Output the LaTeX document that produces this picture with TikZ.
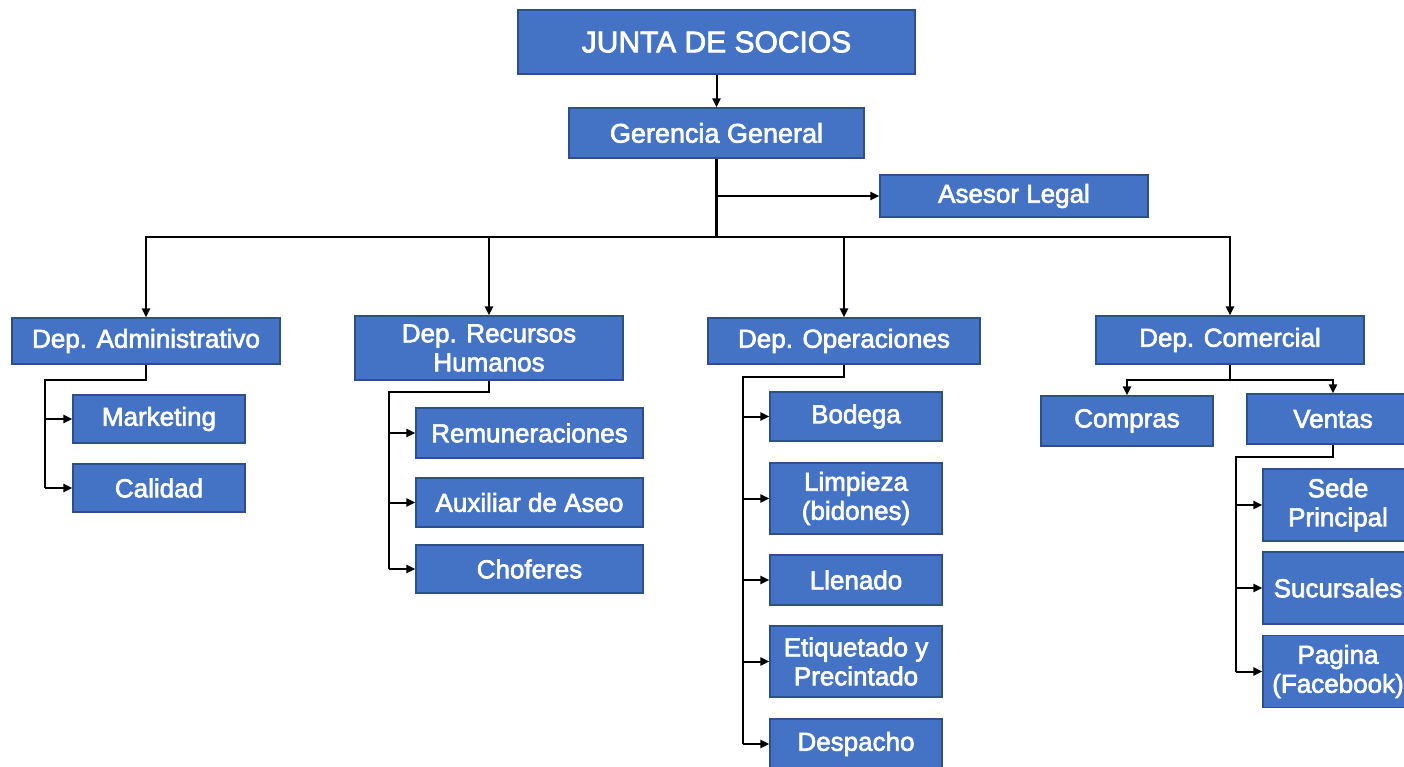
\documentclass[tikz,border=0pt]{standalone}
\usepackage{fontspec}
\setmainfont{Liberation Sans}
\newfontfamily\boxfont{Liberation Sans}[FakeBold=2.5]
\usetikzlibrary{arrows.meta}
\definecolor{boxfill}{HTML}{4472C4}
\definecolor{boxline}{HTML}{2F4F8A}
\tikzset{
  orgbox/.style={draw=boxline, fill=boxfill, line width=1.2pt, text=white, inner sep=0pt, align=center,
     font=\boxfont\fontsize{26}{29}\selectfont},
  conn/.style={line width=2pt, line join=miter},
  arr/.style={conn, -{Triangle[length=9pt,width=8pt]}}
}
\begin{document}
\begin{tikzpicture}[x=1pt,y=-1pt]
\useasboundingbox[fill=white] (0,0) rectangle (1404,767);
% top
\node[orgbox, minimum width=397pt, minimum height=64pt, font=\boxfont\fontsize{30}{33}\selectfont] (junta) at (716.5,42) {JUNTA DE SOCIOS};
\node[orgbox, minimum width=295pt, minimum height=50pt, font=\boxfont\fontsize{27}{30}\selectfont] (ger) at (716.5,133) {Gerencia General};
\node[orgbox, minimum width=268pt, minimum height=42pt] (ase) at (1014,196) {Asesor Legal};
% departments
\node[orgbox, minimum width=268pt, minimum height=46pt] (adm) at (146,341) {Dep. Administrativo};
\node[orgbox, minimum width=268pt, minimum height=64pt] (rrhh) at (489,348) {Dep. Recursos\\Humanos};
\node[orgbox, minimum width=272pt, minimum height=46pt] (ope) at (844,341) {Dep. Operaciones};
\node[orgbox, minimum width=268pt, minimum height=48pt] (com) at (1230,340) {Dep. Comercial};
% administrativo
\node[orgbox, minimum width=172pt, minimum height=48pt] (mkt) at (159,419) {Marketing};
\node[orgbox, minimum width=172pt, minimum height=48pt] (cal) at (159,488) {Calidad};
% rrhh
\node[orgbox, minimum width=227pt, minimum height=50pt] (rem) at (529.5,433) {Remuneraciones};
\node[orgbox, minimum width=227pt, minimum height=49pt] (aux) at (529.5,502.5) {Auxiliar de Aseo};
\node[orgbox, minimum width=227pt, minimum height=48pt] (cho) at (529.5,569) {Choferes};
% operaciones
\node[orgbox, minimum width=172pt, minimum height=49pt] (bod) at (856,416.5) {Bodega};
\node[orgbox, minimum width=172pt, minimum height=71pt] (lim) at (856,498.5) {Limpieza\\(bidones)};
\node[orgbox, minimum width=172pt, minimum height=50pt] (lle) at (856,580) {Llenado};
\node[orgbox, minimum width=172pt, minimum height=71pt] (eti) at (856,661.5) {Etiquetado y\\Precintado};
\node[orgbox, minimum width=172pt, minimum height=50pt] (des) at (856,744) {Despacho};
% comercial
\node[orgbox, minimum width=172pt, minimum height=50pt] (cmp) at (1127,421) {Compras};
\node[orgbox, minimum width=172pt, minimum height=50pt] (ven) at (1333,419) {Ventas};
\node[orgbox, minimum width=150pt, minimum height=72pt] (sed) at (1338,505) {Sede\\Principal};
\node[orgbox, minimum width=150pt, minimum height=72pt] (suc) at (1338,588) {Sucursales};
\node[orgbox, minimum width=150pt, minimum height=72pt] (pag) at (1338,671.5) {Pagina\\(Facebook)};
% coordinates
\coordinate (bus) at (716.5,237);
\coordinate (atr) at (45,380);
\coordinate (rtr) at (389,392);
\coordinate (otr) at (743,377);
\coordinate (cbus) at (1230,380);
\coordinate (vtr) at (1236,457);
% connectors top
\draw[arr] (junta.south) -- (ger.north);
\draw[conn, line width=3pt] (ger.south) -- (bus);
\draw[arr] (ger.south |- ase.west) -- (ase.west);
\draw[arr] (bus) -| (adm.north);
\draw[arr] (bus) -| (rrhh.north);
\draw[arr] (bus) -| (ope.north);
\draw[arr] (bus) -| (com.north);
% administrativo
\draw[conn] (adm.south) |- (atr) -- (atr |- cal.west);
\draw[arr] (atr |- mkt.west) -- (mkt.west);
\draw[arr] (atr |- cal.west) -- (cal.west);
% rrhh
\draw[conn] (rrhh.south) |- (rtr) -- (rtr |- cho.west);
\draw[arr] (rtr |- rem.west) -- (rem.west);
\draw[arr] (rtr |- aux.west) -- (aux.west);
\draw[arr] (rtr |- cho.west) -- (cho.west);
% operaciones
\draw[conn] (ope.south) |- (otr) -- (otr |- des.west);
\draw[arr] (otr |- bod.west) -- (bod.west);
\draw[arr] (otr |- lim.west) -- (lim.west);
\draw[arr] (otr |- lle.west) -- (lle.west);
\draw[arr] (otr |- eti.west) -- (eti.west);
\draw[arr] (otr |- des.west) -- (des.west);
% comercial
\draw[conn] (com.south) -- (cbus);
\draw[arr] (cbus) -| (cmp.north);
\draw[arr] (cbus) -| (ven.north);
\draw[conn] (ven.south) |- (vtr) -- (vtr |- pag.west);
\draw[arr] (vtr |- sed.west) -- (sed.west);
\draw[arr] (vtr |- suc.west) -- (suc.west);
\draw[arr] (vtr |- pag.west) -- (pag.west);
\end{tikzpicture}
\end{document}
